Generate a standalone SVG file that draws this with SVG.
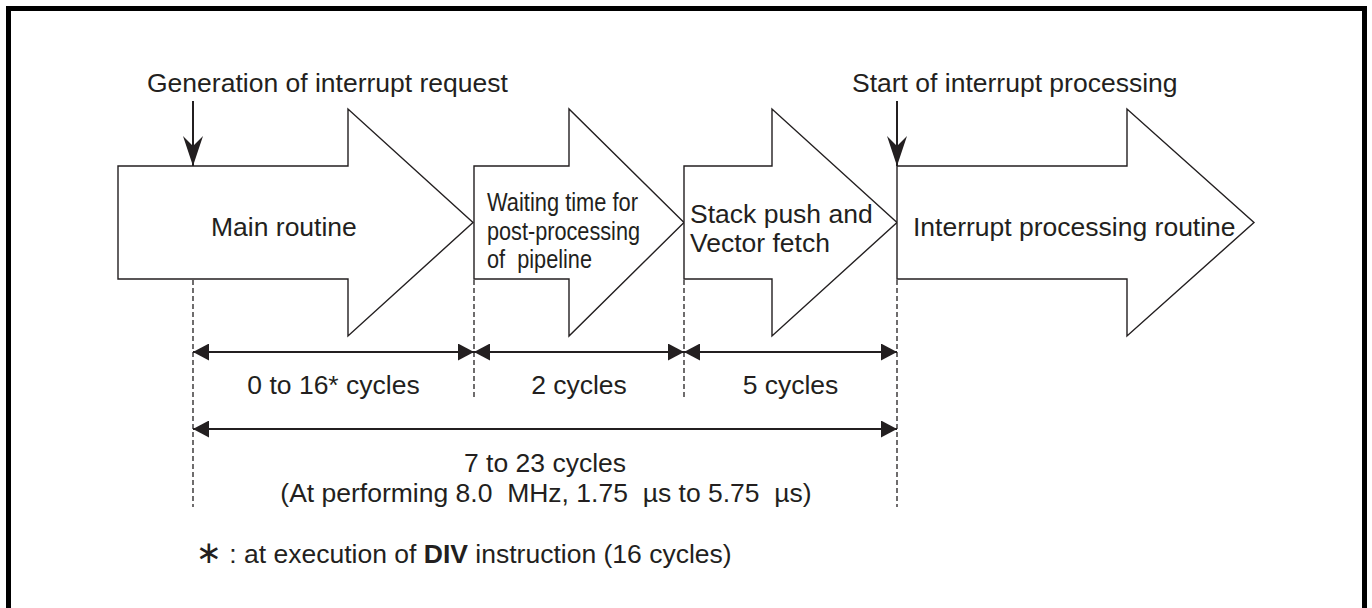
<svg xmlns="http://www.w3.org/2000/svg" width="1372" height="608" viewBox="0 0 1372 608">
  <style>
    .t { font-family: "Liberation Sans", Arial, Helvetica, sans-serif; font-size: 26.5px; fill: #231f20; }
    .n { font-family: "Liberation Sans", Arial, Helvetica, sans-serif; font-size: 25px; fill: #231f20; }
    .b { font-weight: bold; }
    .blk { fill: #fff; stroke: #231f20; stroke-width: 1.4; stroke-linejoin: miter; }
    .dash { stroke: #231f20; stroke-width: 1.3; stroke-dasharray: 5 3; fill: none; }
    .dim { stroke: #231f20; stroke-width: 2.2; fill: none; }
    .frame { stroke: #000; stroke-width: 5; fill: none; }
  </style>
  <defs>
    <marker id="dimHead" viewBox="0 0 16 17" markerWidth="16" markerHeight="17" refX="16" refY="8.5" orient="auto-start-reverse" markerUnits="userSpaceOnUse">
      <path d="M0,0 L16,8.5 L0,17 Z" fill="#231f20"/>
    </marker>
    <marker id="downHead" viewBox="0 0 30 20" markerWidth="30" markerHeight="20" refX="30" refY="10" orient="auto" markerUnits="userSpaceOnUse">
      <path d="M30,10 Q12,4 0,0 L10,10 L0,20 Q12,16 30,10 Z" fill="#231f20"/>
    </marker>
  </defs>

  <rect width="1372" height="608" fill="#fff"/>

  <g id="frame">
    <path class="frame" d="M8.5,612 V8.5 H1364.5 V612"/>
  </g>

  <g id="main-routine">
    <path class="blk" d="M118,166 H348 V109 L473,222.5 L348,336 V279 H118 Z"/>
    <text class="t" x="211" y="236">Main routine</text>
  </g>

  <g id="waiting-time">
    <path class="blk" d="M474,166 H569 V109 L684,222.5 L569,336 V279 H474 Z"/>
    <text class="n" x="487" y="211" textLength="151" lengthAdjust="spacingAndGlyphs">Waiting time for</text>
    <text class="n" x="487" y="240" textLength="153" lengthAdjust="spacingAndGlyphs">post-processing</text>
    <text class="n" x="487" y="268" textLength="105" lengthAdjust="spacingAndGlyphs" xml:space="preserve">of  pipeline</text>
  </g>

  <g id="stack-push">
    <path class="blk" d="M684,166 H772 V109 L897,222.5 L772,336 V279 H684 Z"/>
    <text class="t" x="690" y="223">Stack push and</text>
    <text class="t" x="690" y="252">Vector fetch</text>
  </g>

  <g id="interrupt-routine">
    <path class="blk" d="M897,166 H1127 V109 L1254,222.5 L1127,336 V279 H897 Z"/>
    <text class="t" x="913" y="236">Interrupt processing routine</text>
  </g>

  <g id="label-generation">
    <text class="t" x="147" y="92">Generation of interrupt request</text>
  </g>

  <g id="label-start">
    <text class="t" x="852" y="92">Start of interrupt processing</text>
  </g>

  <g id="connectors">
    <line x1="193" y1="101" x2="193" y2="166" stroke="#231f20" stroke-width="2" marker-end="url(#downHead)"/>
    <line x1="897" y1="101" x2="897" y2="166" stroke="#231f20" stroke-width="2" marker-end="url(#downHead)"/>

    <line class="dash" x1="193" y1="280" x2="193" y2="507"/>
    <line class="dash" x1="474" y1="280" x2="474" y2="400"/>
    <line class="dash" x1="684" y1="280" x2="684" y2="400"/>
    <line class="dash" x1="897" y1="280" x2="897" y2="507"/>

    <line class="dim" x1="193" y1="352" x2="474" y2="352" marker-start="url(#dimHead)" marker-end="url(#dimHead)"/>
    <line class="dim" x1="474" y1="352" x2="684" y2="352" marker-start="url(#dimHead)" marker-end="url(#dimHead)"/>
    <line class="dim" x1="684" y1="352" x2="897" y2="352" marker-start="url(#dimHead)" marker-end="url(#dimHead)"/>
    <line class="dim" x1="193" y1="429" x2="897" y2="429" marker-start="url(#dimHead)" marker-end="url(#dimHead)"/>
  </g>

  <g id="dimension-labels">
    <text class="t" x="333.5" y="394" text-anchor="middle">0 to 16* cycles</text>
    <text class="t" x="579" y="394" text-anchor="middle">2 cycles</text>
    <text class="t" x="790.5" y="394" text-anchor="middle">5 cycles</text>
    <text class="t" x="545" y="472" text-anchor="middle">7 to 23 cycles</text>
    <text class="t" x="546" y="502" text-anchor="middle" xml:space="preserve">(At performing 8.0  MHz, 1.75  µs to 5.75  µs)</text>
  </g>

  <g id="footnote">
    <text class="t" x="196" y="563" xml:space="preserve"><tspan font-family="'DejaVu Sans', sans-serif" font-size="31">∗</tspan> : at execution of <tspan class="b">DIV</tspan> instruction (16 cycles)</text>
  </g>
</svg>
